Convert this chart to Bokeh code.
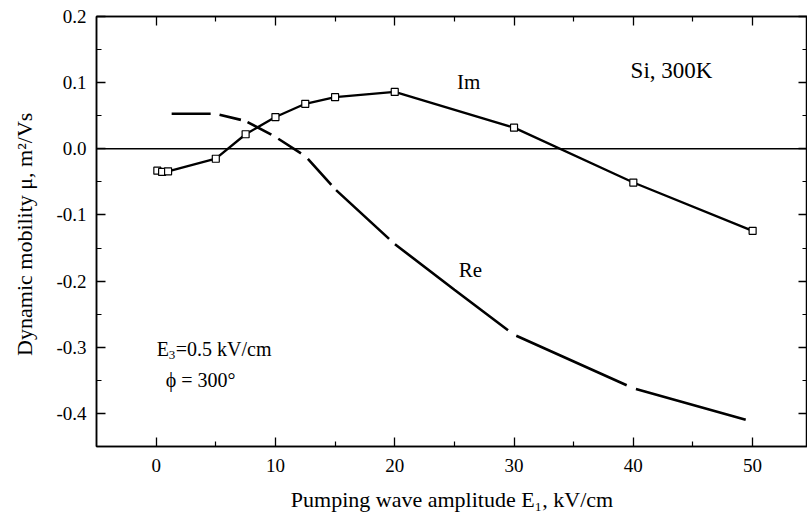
from bokeh.plotting import figure
from bokeh.models import (LinearAxis, FixedTicker, Span, Label, Range1d,
                          ColumnDataSource, CustomJSTickFormatter)
from bokeh.embed import file_html
from bokeh.resources import INLINE

# ---- data ----
im_x = [0.1, 0.5, 1.0, 5.0, 7.5, 10.0, 12.5, 15.0, 20.0, 30.0, 40.0, 50.0]
im_y = [-0.033, -0.035, -0.034, -0.015, 0.022, 0.048, 0.068, 0.078, 0.086, 0.032, -0.051, -0.124]

re_x = [1.3, 5.0, 7.5, 10.0, 12.5, 15.0, 20.0, 25.0, 30.0, 40.0, 49.7]
re_y = [0.053, 0.053, 0.042, 0.018, -0.011, -0.061, -0.144, -0.213, -0.281, -0.362, -0.411]

x_ticks = [0, 10, 20, 30, 40, 50]
x_minor = [5, 15, 25, 35, 45]
y_ticks = [0.2, 0.1, 0.0, -0.1, -0.2, -0.3, -0.4]
y_minor = [0.15, 0.05, -0.05, -0.15, -0.25, -0.35]

FONT = "Liberation Serif"

p = figure(width=807, height=527,
           x_range=Range1d(-5, 54.6), y_range=Range1d(-0.45, 0.2),
           output_backend="svg", toolbar_location=None,
           x_axis_type=None, y_axis_type=None,
           min_border_left=96, min_border_top=16,
           min_border_right=0, min_border_bottom=81)
p.outline_line_color = "black"
p.outline_line_width = 1.5
p.background_fill_color = "white"
p.border_fill_color = "white"


def style_axis(ax, labels=True):
    ax.major_tick_in = 9
    ax.major_tick_out = 0
    ax.minor_tick_in = 5
    ax.minor_tick_out = 0
    ax.axis_line_color = "black"
    ax.axis_line_width = 1.5
    ax.major_tick_line_width = 1.3
    ax.minor_tick_line_width = 1.2
    ax.major_label_text_font = FONT
    ax.axis_label_text_font = FONT
    ax.axis_label_text_font_style = "normal"
    ax.major_label_text_color = "black"
    ax.axis_label_text_color = "black"
    if not labels:
        ax.formatter = CustomJSTickFormatter(code="return ''")
        ax.major_label_text_font_size = "0px"
        ax.major_label_standoff = 0


xb = LinearAxis(ticker=FixedTicker(ticks=x_ticks, minor_ticks=x_minor),
                formatter=CustomJSTickFormatter(code="return tick.toFixed(0)"),
                axis_label="Pumping wave amplitude E\u2081, kV/cm")
style_axis(xb)
xb.major_label_text_font_size = "19px"
xb.axis_label_text_font_size = "22px"
xb.major_label_standoff = 12
xb.axis_label_standoff = 12
p.add_layout(xb, "below")

yl = LinearAxis(ticker=FixedTicker(ticks=y_ticks, minor_ticks=y_minor),
                formatter=CustomJSTickFormatter(code="return tick.toFixed(1)"),
                axis_label="Dynamic mobility \u03bc,  m\u00b2/Vs")
style_axis(yl)
yl.major_label_text_font_size = "19px"
yl.axis_label_text_font_size = "22px"
yl.major_label_standoff = 10
yl.axis_label_standoff = 16
p.add_layout(yl, "left")

xt = LinearAxis(ticker=FixedTicker(ticks=x_ticks, minor_ticks=x_minor))
style_axis(xt, labels=False)
p.add_layout(xt, "above")

yr = LinearAxis(ticker=FixedTicker(ticks=y_ticks, minor_ticks=y_minor))
style_axis(yr, labels=False)
p.add_layout(yr, "right")

p.add_layout(Span(location=0, dimension="width", line_color="black", line_width=1.5))

im_src = ColumnDataSource(dict(x=im_x, y=im_y))
re_src = ColumnDataSource(dict(x=re_x, y=re_y))

p.line("x", "y", source=re_src, line_color="black", line_width=2.6,
       line_dash="39 9 22 7 27 8 27 9 35 7 72 8 142 10 121 10 114")
p.line("x", "y", source=im_src, line_color="black", line_width=2.3)
p.scatter("x", "y", source=im_src, marker="square", size=7,
          fill_color="white", line_color="black", line_width=1.2)

def lab(x, y, text, size="21px", align="center", xo=0, yo=0):
    p.add_layout(Label(x=x, y=y, text=text, text_font=FONT, text_font_size=size,
                       text_align=align, text_baseline="middle", text_color="black",
                       x_offset=xo, y_offset=yo))

lab(26.2, 0.101, "Im")
lab(43.2, 0.118, "Si, 300K", size="23px")
lab(26.35, -0.183, "Re")
lab(0.05, -0.302, "E", size="20px", align="left")
lab(0.05, -0.302, "3", size="13px", align="left", xo=12, yo=-6)
lab(0.05, -0.302, "=0.5 kV/cm", size="20px", align="left", xo=19)
lab(0.8, -0.35, "\u03d5 = 300\u00b0", size="20px", align="left")

open("out.html", "w").write(file_html(p, INLINE))
